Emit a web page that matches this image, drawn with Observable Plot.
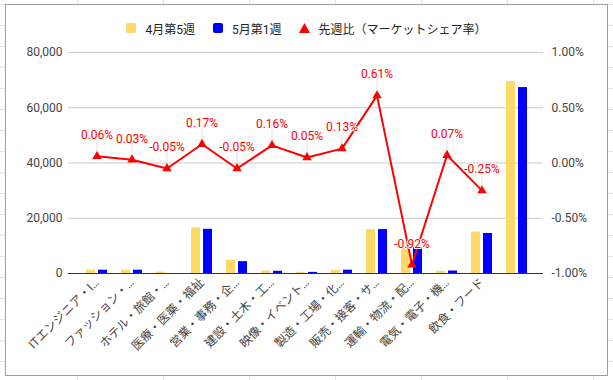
<!DOCTYPE html>
<html><head><meta charset="utf-8">
<script src="https://cdn.jsdelivr.net/npm/d3@7"></script>
<script src="https://cdn.jsdelivr.net/npm/@observablehq/plot@0.6"></script>
<style>
html,body{margin:0;padding:0;}
body{width:613px;height:380px;overflow:hidden;position:relative;background-color:#fff;
 background-image:
  repeating-linear-gradient(to right, transparent 0px, transparent 77px, #e3e3e3 77px, #e3e3e3 78px, transparent 78px, transparent 86px),
  repeating-linear-gradient(to bottom, transparent 0px, transparent 4px, #e3e3e3 4px, #e3e3e3 5px, transparent 5px, transparent 21px);
 font-family: Roboto, "Noto Sans CJK JP", sans-serif;}
#chart{position:absolute;left:5px;top:4px;width:603px;height:372px;box-sizing:border-box;border:1px solid #9e9e9e;background:#fff;}
#legend{height:26px;padding-top:10px;display:flex;justify-content:center;align-items:center;font-size:12px;color:#222;}
#legend .item{display:flex;align-items:center;margin:0 9px;}
#legend .sw{display:inline-block;width:10px;height:10px;border-radius:2px;margin-right:9px;}
#legend svg{margin-right:8px;}
#plot svg{display:block;}
</style>
</head><body>
<div id="chart"><div id="legend"></div><div id="plot"></div></div>
<script>
const categories = ["ITエンジニア・I…","ファッション・…","ホテル・旅館・…","医療・医薬・福祉","営業・事務・企…","建設・土木・工…","映像・イベント…","製造・工場・化…","販売・接客・サ…","運輸・物流・配…","電気・電子・機…","飲食・フード",""];
const week4_5 = [1200,1200,500,16500,4800,900,400,1100,15900,9300,800,15000,69500];
const week5_1 = [1200,1200,0,16000,4300,800,400,1200,15900,9400,900,14500,67300];
const shareChange = [0.06,0.03,-0.05,0.17,-0.05,0.16,0.05,0.13,0.61,-0.92,0.07,-0.25]; // percent points
const leftTicks = [0,20000,40000,60000,80000];
const rightTickLabels = ["-1.00%","-0.50%","0.00%","0.50%","1.00%"];
const rightRange = [-1, 1]; // percent shown on secondary axis
const seriesNames = ["4月第5週","5月第1週","先週比（マーケットシェア率）"];
const seriesColors = ["#ffd966","#0000ff","#ff0000"];

const yMax = leftTicks[leftTicks.length-1];
const toY = p => (p - rightRange[0]) / (rightRange[1] - rightRange[0]) * yMax;

const bars = categories.map((c,i)=>({cat:c, a:week4_5[i], b:week5_1[i]}));
const line = shareChange.map((v,i)=>({cat:categories[i], y:toY(v), label:v.toFixed(2)+"%"}));

// legend
const lg = document.getElementById("legend");
seriesNames.forEach((name,i)=>{
  const it = document.createElement("span"); it.className="item";
  if (i<2) { const sw=document.createElement("span"); sw.className="sw"; sw.style.background=seriesColors[i]; it.appendChild(sw); }
  else { it.insertAdjacentHTML("beforeend", `<svg width="11" height="10"><polygon points="5.5,0 11,10 0,10" fill="${seriesColors[i]}"/></svg>`); }
  const t=document.createElement("span"); t.textContent=name; it.appendChild(t);
  lg.appendChild(it);
});

const chart = Plot.plot({
  width: 601, height: 334,
  marginTop: 11, marginBottom: 102, marginLeft: 62, marginRight: 64,
  style: {fontFamily: "Roboto, 'Noto Sans CJK JP', sans-serif", fontSize: "12px", color: "#444", background: "white", overflow: "visible"},
  x: {domain: categories, padding: 0, insetLeft: 6, insetRight: 5, label: null},
  y: {domain: [0, yMax], label: null},
  marks: [
    Plot.gridY(leftTicks, {stroke: "#ccc", strokeOpacity: 1}),
    Plot.axisY(leftTicks, {anchor: "left", tickSize: 0, tickPadding: 6, tickFormat: d3.format(","), label: null}),
    Plot.axisY(leftTicks, {anchor: "right", tickSize: 0, tickPadding: 8, tickFormat: d => rightTickLabels[leftTicks.indexOf(d)], label: null}),
    Plot.axisX({tickRotate: -45, tickSize: 0, tickPadding: 7, label: null, fontSize: 12}),
    Plot.barY(bars, {x: "cat", y: "a", fill: seriesColors[0], insetLeft: 7, insetRight: 19}),
    Plot.barY(bars, {x: "cat", y: "b", fill: seriesColors[1], insetLeft: 19, insetRight: 7}),
    Plot.ruleY([0], {stroke: "#333"}),
    Plot.ruleX(line, {x: "cat", y1: "y", y2: "y", insetBottom: 16, stroke: "#e0e0e0"}),
    Plot.line(line, {x: "cat", y: "y", stroke: seriesColors[2], strokeWidth: 2}),
    Plot.dot(line, {x: "cat", y: "y", symbol: "triangle", r: 3.5, fill: seriesColors[2]}),
    Plot.text(line, {x: "cat", y: "y", text: "label", dy: -21, fill: seriesColors[2], stroke: "white", strokeWidth: 2, paintOrder: "stroke", fontSize: 12})
  ]
});
document.getElementById("plot").appendChild(chart);
</script>
</body></html>
